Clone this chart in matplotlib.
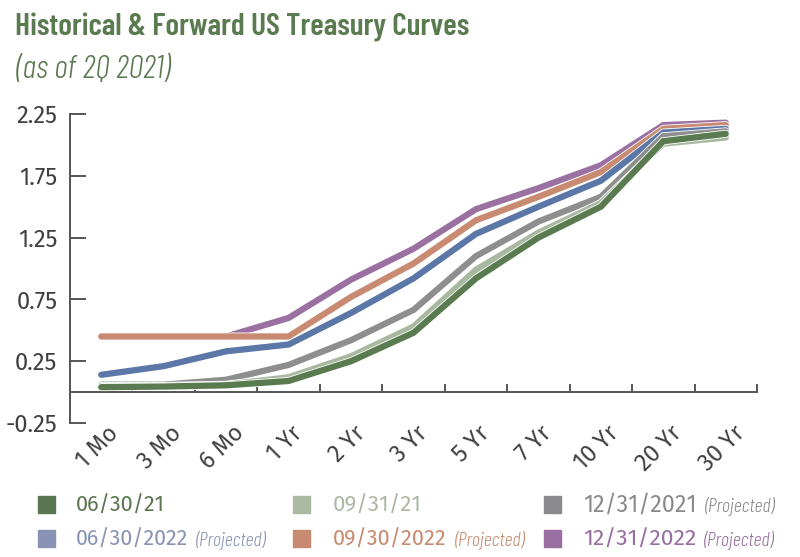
import matplotlib
matplotlib.use("Agg")
import matplotlib.pyplot as plt
import matplotlib.patheffects as pe
import matplotlib.transforms as mtransforms
from matplotlib.patches import Rectangle
import numpy as np

plt.rcParams['font.family'] = ['Fira Sans', 'DejaVu Sans']

categories = ["1 Mo", "3 Mo", "6 Mo", "1 Yr", "2 Yr", "3 Yr", "5 Yr", "7 Yr", "10 Yr", "20 Yr", "30 Yr"]

s_063021 = [0.04, 0.045, 0.055, 0.09, 0.25, 0.48, 0.92, 1.25, 1.50, 2.03, 2.09]
s_093121 = [0.05, 0.05, 0.06, 0.12, 0.29, 0.53, 0.99, 1.29, 1.53, 2.01, 2.06]
s_123121 = [0.06, 0.06, 0.10, 0.22, 0.42, 0.665, 1.10, 1.38, 1.58, 2.07, 2.11]
s_063022 = [0.14, 0.21, 0.33, 0.385, 0.64, 0.92, 1.28, 1.50, 1.71, 2.10, 2.13]
s_093022 = [0.45, 0.45, 0.45, 0.45, 0.77, 1.04, 1.39, 1.58, 1.78, 2.13, 2.16]
s_123122 = [0.45, 0.45, 0.45, 0.60, 0.91, 1.16, 1.48, 1.65, 1.835, 2.16, 2.18]

names = ["06/30/21", "09/31/21", "12/31/2021", "06/30/2022", "09/30/2022", "12/31/2022"]
projected = [False, False, True, True, True, True]
series = [s_063021, s_093121, s_123121, s_063022, s_093022, s_123122]
line_colors = ["#5a7a50", "#a9b8a1", "#8e8e8e", "#5b77a8", "#c88a70", "#9a71a1"]
legend_colors = ["#5a7650", "#abb9a3", "#8a8a8c", "#8a93b4", "#c88a70", "#986fa0"]

yticks = [-0.25, 0.25, 0.75, 1.25, 1.75, 2.25]

W, H = 800, 557
fig = plt.figure(figsize=(W/100, H/100), dpi=100)
ax = fig.add_axes([70/W, 1-423/H, 687/W, 309/H])


def fit(t, target_px):
    fig.canvas.draw()
    w = t.get_window_extent().width
    t.set_fontsize(t.get_fontsize() * target_px / w)
    fig.canvas.draw()
    return t


x = np.arange(len(categories))
for i in reversed(range(len(series))):
    ax.plot(x, series[i], color=line_colors[i], lw=4.5, solid_capstyle='round',
            solid_joinstyle='miter',
            path_effects=[pe.Stroke(linewidth=5.7, foreground='white'), pe.Normal()],
            zorder=3 + (len(series) - i))

ax.set_xlim(-0.5, len(categories) - 0.5)
ax.set_ylim(-0.25, 2.25)

axis_color = "#555555"
for s in ['top', 'right']:
    ax.spines[s].set_visible(False)
ax.spines['left'].set_color(axis_color)
ax.spines['left'].set_linewidth(1.4)
ax.spines['bottom'].set_position(('data', 0))
ax.spines['bottom'].set_color(axis_color)
ax.spines['bottom'].set_linewidth(1.4)

tick_fs = 17
tick_color = "#404040"
ax.set_yticks(yticks)
ax.set_yticklabels([f"{v:.2f}" for v in yticks])
ax.tick_params(axis='y', direction='in', length=11.5, width=1.4, color=axis_color,
               labelsize=tick_fs, labelcolor=tick_color, pad=9)

ax.set_xticks(x)
ax.set_xticks(np.arange(-0.5, len(categories)), minor=True)
ax.set_xticklabels(categories, rotation=45, ha='center')
ax.tick_params(axis='x', which='major', length=0, labelsize=tick_fs, labelcolor=tick_color, pad=21)
ax.tick_params(axis='x', which='minor', direction='in', length=6, width=1.4, color=axis_color)
shift = mtransforms.ScaledTranslation(-4/100, 0, fig.dpi_scale_trans)
for lab in ax.get_xticklabels():
    lab.set_transform(lab.get_transform() + shift)

title_color = "#5a7a4f"
t1 = fig.text(15/W, 1-36/H, "Historical & Forward US Treasury Curves", fontsize=22,
              family=['Barlow Condensed', 'DejaVu Sans'], fontweight=600,
              color=title_color, ha='left', va='baseline')
fit(t1, 453)
t2 = fig.text(16/W, 1-78/H, "(as of 2Q 2021)", fontsize=20, style='italic',
              family=['Barlow Condensed', 'DejaVu Sans'], fontweight=300,
              color=title_color, ha='left', va='baseline')
fit(t2, 154)

# legend
col_sq = [38, 293, 544]
col_tx = [76, 333, 583]
row_y = [505, 539]
for i, name in enumerate(names):
    r, c = divmod(i, 3)
    sy = row_y[r]
    fig.patches.append(Rectangle((col_sq[c]/W, 1-(sy+8)/H), 17/W, 17/H,
                                 transform=fig.transFigure, color=legend_colors[i]))
    t = fig.text(col_tx[c]/W, 1-sy/H, name, fontsize=16, color=legend_colors[i],
                 ha='left', va='center')
    fit(t, 113 if len(name) == 10 else 89)
    if projected[i]:
        bb = t.get_window_extent()
        fig.text((bb.x1 + 8)/W, 1-(sy+1)/H, "(Projected)", fontsize=14.5,
                 style='italic', fontweight=300,
                 family=['Barlow Condensed', 'DejaVu Sans'],
                 color=legend_colors[i], ha='left', va='center')

fig.savefig("out.png", dpi=100)
